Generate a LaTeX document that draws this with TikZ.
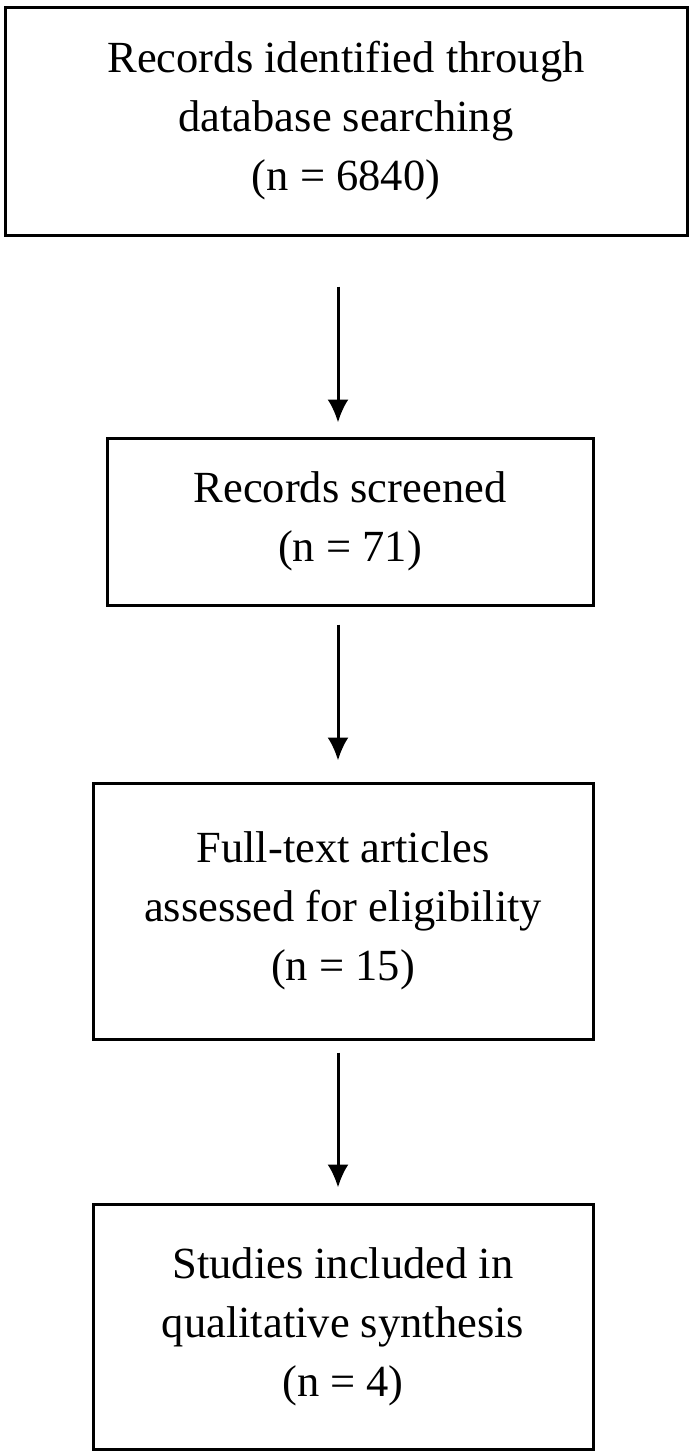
\documentclass[tikz,border=0pt]{standalone}
\usepackage{fontspec}
\setmainfont{Liberation Serif}
\usetikzlibrary{arrows.meta, positioning}

\begin{document}
\begin{tikzpicture}[%
	x=1pt, y=1pt,
	every node/.style={font=\fontsize{44.5}{59}\selectfont},
	>={Latex[length=23pt, width=21pt]}, % Solid arrow heads
	node distance=180pt,                % Global setup of box spacing
	]
	% -------------------------------------------------
	% Box and connector styles
	\tikzset{
		box/.style={draw, rectangle, line width=3pt, align=center, inner sep=0pt},
		link/.style={->, draw, line width=3pt},
	}
	\useasboundingbox (0,0) rectangle (693,-1454);

	\node[box, minimum width=682pt, minimum height=228pt] at (346,-121) (rec)
		{Records identified through\\database searching\\(n = 6840)};
	\node[box, minimum width=486pt, minimum height=167pt, below=200pt of rec, xshift=4pt] (scr)
		{Records screened\\(n = 71)};
	\node[box, minimum width=500pt, minimum height=256pt, below=175pt of scr, xshift=-7pt] (full)
		{Full-text articles\\assessed for eligibility\\(n = 15)};
	\node[box, minimum width=500pt, minimum height=245pt, below=162pt of full] (incl)
		{Studies included in\\qualitative synthesis\\(n = 4)};

	% arrows run on a common vertical line
	\coordinate (axis) at (338,0);
	\draw[link, shorten <=50pt, shorten >=14pt] (rec.south -| axis) -- (scr.north -| axis);
	\draw[link, shorten <=18pt, shorten >=21pt] (scr.south -| axis) -- (full.north -| axis);
	\draw[link, shorten <=12pt, shorten >=15pt] (full.south -| axis) -- (incl.north -| axis);
\end{tikzpicture}
\end{document}
